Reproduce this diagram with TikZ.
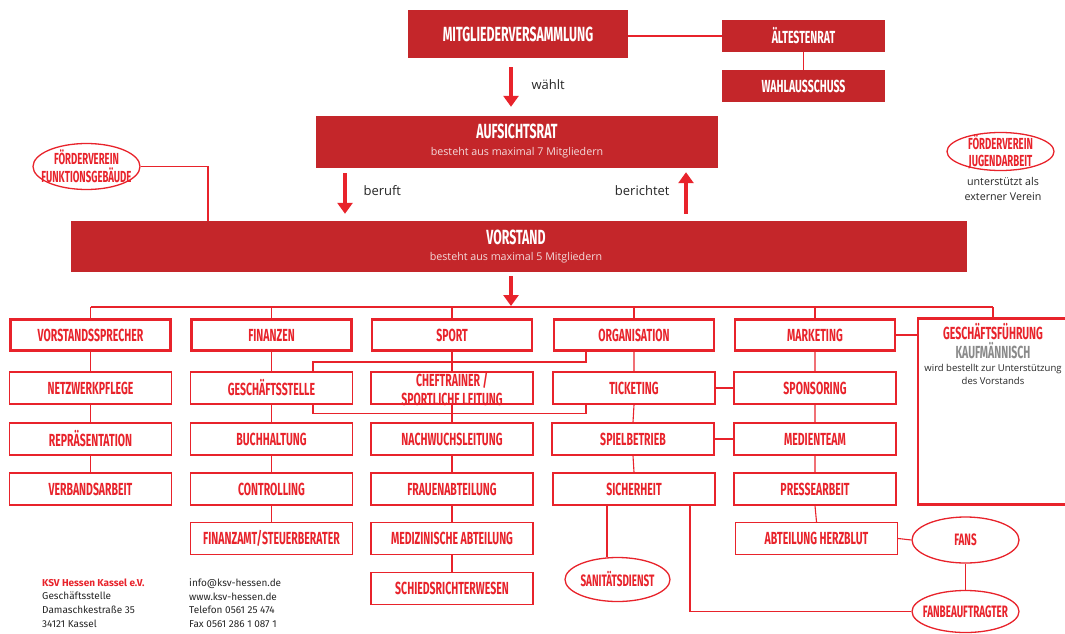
\documentclass[tikz,border=0pt]{standalone}
\usepackage{fontspec}
\setmainfont{Open Sans}
\newfontfamily\bebas[FakeStretch=0.6]{Fira Sans}
\newfontfamily\fira{Fira Sans}
\usetikzlibrary{arrows.meta,shapes.geometric}
\definecolor{dred}{HTML}{C4262A}
\definecolor{bred}{HTML}{E8232B}
\definecolor{gtxt}{HTML}{8A8A8A}
\definecolor{ptxt}{HTML}{F3DADB}
\begin{document}
\begin{tikzpicture}[x=1pt,y=-1pt,
  darkbox/.style={fill=dred, draw=none, text=white, align=center, inner sep=0pt},
  dtitle/.style={font=\bebas\bfseries\fontsize{20.5}{22}\selectfont},
  dsub/.style={text=ptxt, inner sep=0pt, font=\fontsize{10.7}{12}\selectfont},
  headbox/.style={draw=bred, line width=2.6pt, fill=white, text=bred, minimum width=160pt, minimum height=31pt, inner sep=0pt, font=\bebas\bfseries\fontsize{17.5}{19}\selectfont},
  subbox/.style={draw=bred, line width=1.4pt, fill=white, text=bred, minimum width=162pt, minimum height=32pt, inner sep=0pt, align=center, font=\bebas\bfseries\fontsize{17.5}{19}\selectfont},
  oval/.style={ellipse, draw=bred, line width=1.3pt, fill=white, inner sep=0pt},
  ovtext/.style={text=bred, inner sep=0pt, align=center, font=\bebas\bfseries\fontsize{16.5}{17.5}\selectfont},
  fvtext/.style={text=bred, inner sep=0pt, align=center, font=\bebas\bfseries\fontsize{16}{17}\selectfont},
  link/.style={draw=bred, line width=1.1pt},
  bigarrow/.style={draw=bred, line width=4.5pt, -{Triangle[width=15pt,length=11pt]}},
  lbl/.style={font=\fontsize{13}{15}\selectfont, text=black!85},
  foot/.style={anchor=north west, align=left, inner sep=0pt, font=\fira\fontsize{10}{13.6}\selectfont, text=black!85},
]
\useasboundingbox (0,0) rectangle (1065,634);

% top level
\node[darkbox, minimum width=220pt, minimum height=48pt, dtitle] (mv) at (518,34) {MITGLIEDERVERSAMMLUNG};
\node[darkbox, minimum width=163pt, minimum height=32pt, font=\bebas\bfseries\fontsize{17.5}{19}\selectfont] (alt) at (803.5,36) {ÄLTESTENRAT};
\node[darkbox, minimum width=163pt, minimum height=32pt, font=\bebas\bfseries\fontsize{17.5}{19}\selectfont] (wahl) at (803.5,86) {WAHLAUSSCHUSS};
\node[darkbox, minimum width=402pt, minimum height=52pt] (ar) at (517,142) {};
\node[dtitle, text=white, inner sep=0pt] (art) at (517,131) {AUFSICHTSRAT};
\node[dsub] (ars) at (517,152.5) {besteht aus maximal 7 Mitgliedern};
\node[darkbox, minimum width=896pt, minimum height=51pt] (vs) at (519,246.5) {};
\node[dtitle, text=white, inner sep=0pt] (vst) at (516,237.5) {VORSTAND};
\node[dsub] (vss) at (516,257.5) {besteht aus maximal 5 Mitgliedern};

\draw[link] (mv.east |- alt) -- (alt.west);
\draw[link] (alt.south) -- (wahl.north);

% arrows
\coordinate (ax1) at (511,0);
\coordinate (ax2) at (345,0);
\coordinate (ax3) at (686,0);
\coordinate (bus) at (0,307);
\draw[bigarrow, shorten <=9pt, shorten >=9pt] (mv.south -| ax1) -- (ar.north -| ax1);
\node[lbl, anchor=west] (wl) at (528,85) {wählt};
\draw[bigarrow, shorten <=5pt, shorten >=7pt] (ar.south -| ax2) -- (vs.north -| ax2);
\node[lbl, anchor=west] (bl) at (360,191) {beruft};
\draw[bigarrow, shorten <=7pt, shorten >=4pt] (vs.north -| ax3) -- (ar.south -| ax3);
\node[lbl, anchor=east] (bt) at (673,191) {berichtet};
\draw[bigarrow, shorten <=4pt, shorten >=1pt] (vs.south -| ax1) -- (bus -| ax1);

% foerdervereine
\node[oval, minimum width=107pt, minimum height=46pt] (fvf) at (86.5,166.5) {};
\node[fvtext, font=\bebas\bfseries\fontsize{16}{18}\selectfont] (fvft) at (86.5,166) {FÖRDERVEREIN\\FUNKTIONSGEBÄUDE};
\coordinate (fvx) at (208,0);
\draw[link] (fvf.east) -| (vs.north -| fvx);
\node[oval, minimum width=107pt, minimum height=38pt] (fvj) at (1000.5,151.5) {};
\node[fvtext] (fvjt) at (1000.5,151.5) {FÖRDERVEREIN\\JUGENDARBEIT};
\node[align=center, inner sep=0pt, font=\fontsize{10.7}{14.5}\selectfont, text=black!85] (fvjs) at (1003,189) {unterstützt als\\externer Verein};

% column heads
\node[headbox] (c1) at (90.5,335) {VORSTANDSSPRECHER};
\node[headbox] (c2) at (271.5,335) {FINANZEN};
\node[headbox] (c3) at (452,335) {SPORT};
\node[headbox] (c4) at (634,335) {ORGANISATION};
\node[headbox] (c5) at (815,335) {MARKETING};
\node[draw=bred, line width=2.6pt, fill=white, minimum width=150pt, minimum height=186pt, inner sep=0pt] (gf) at (993,411.5) {};
\node[inner sep=0pt, text=bred, font=\bebas\bfseries\fontsize{17.5}{19}\selectfont] (gft1) at (993,332) {GESCHÄFTSFÜHRUNG};
\node[inner sep=0pt, text=gtxt, font=\bebas\bfseries\fontsize{17.5}{19}\selectfont] (gft2) at (993,350.5) {KAUFMÄNNISCH};
\node[inner sep=0pt, align=center, text=black!85, font=\fontsize{9.5}{13}\selectfont] (gft3) at (993,374) {wird bestellt zur Unterstützung\\des Vorstands};

\draw[link] (c1.north |- bus) -- (gf.north |- bus);
\foreach \n in {c1,c2,c3,c4,c5,gf} \draw[link] (\n.north) -- (\n.north |- bus);
\draw[link] (c5.east) -- (c5.east -| gf.west);

% column 1
\node[subbox] (n11) at (90.5,388) {NETZWERKPFLEGE};
\node[subbox] (n12) at (90.5,439) {REPRÄSENTATION};
\node[subbox] (n13) at (90.5,489) {VERBANDSARBEIT};
% column 2
\node[subbox] (n21) at (271.5,388) {GESCHÄFTSSTELLE};
\node[subbox] (n22) at (271.5,439) {BUCHHALTUNG};
\node[subbox] (n23) at (271.5,489) {CONTROLLING};
\node[subbox] (n24) at (271.5,538.5) {FINANZAMT/STEUERBERATER};
% column 3
\node[subbox] (n31) at (452,388) {};
\node[text=bred, align=center, inner sep=0pt, font=\bebas\bfseries\fontsize{17.5}{19}\selectfont] (n31t) at (452,389) {CHEFTRAINER /\\SPORTLICHE LEITUNG};
\node[subbox] (n32) at (452,439) {NACHWUCHSLEITUNG};
\node[subbox] (n33) at (452,489) {FRAUENABTEILUNG};
\node[subbox] (n34) at (452,538.5) {MEDIZINISCHE ABTEILUNG};
\node[subbox] (n35) at (452,588.5) {SCHIEDSRICHTERWESEN};
% column 4
\node[subbox] (n41) at (634,388) {TICKETING};
\node[subbox] (n42) at (633,439) {SPIELBETRIEB};
\node[subbox] (n43) at (634,489) {SICHERHEIT};
% column 5
\node[subbox] (n51) at (815,388) {SPONSORING};
\node[subbox] (n52) at (815,439) {MEDIENTEAM};
\node[subbox] (n53) at (815,489) {PRESSEARBEIT};
\node[subbox] (n54) at (816.5,538.5) {ABTEILUNG HERZBLUT};

% vertical chains
\draw[link] (c1.south) -- (n11.north) (n11.south) -- (n12.north) (n12.south) -- (n13.north);
\draw[link] (c2.south) -- (n21.north) (n21.south) -- (n22.north) (n22.south) -- (n23.north) (n23.south) -- (n24.north);
\draw[link] (c3.south) -- (n31.north) (n31.south) -- (n32.north) (n32.south) -- (n33.north) (n33.south) -- (n34.north) (n34.south) -- (n35.north);
\draw[link] (c4.south) -- (n41.north) (n41.south) -- (n42.north) (n42.south) -- (n43.north);
\draw[link] (c5.south) -- (n51.north) (n51.south) -- (n52.north) (n52.south) -- (n53.north) (n53.south) -- (n54.north);

% cross links
\coordinate (gsx) at (313,0);
\coordinate (orx) at (586,0);
\coordinate (yy1) at (0,362);
\coordinate (yy2) at (0,413.5);
\draw[link] (c4.south -| orx) |- (gsx |- yy1) -- (n21.north -| gsx);
\draw[link] (n41.south -| orx) |- (gsx |- yy2) -- (n21.south -| gsx);
\draw[link] (n41.east) -- (n51.west);
\draw[link] (n42.east) -- (n52.west);

% ovals bottom
\node[oval, minimum width=105pt, minimum height=44pt] (san) at (617.5,579.5) {};
\node[ovtext] (sant) at (617.5,579.5) {SANITÄTSDIENST};
\node[oval, minimum width=107pt, minimum height=46pt] (fans) at (965.5,540) {};
\node[ovtext] (fanst) at (965.5,540) {FANS};
\node[oval, minimum width=107pt, minimum height=42pt] (fanb) at (965.5,611.5) {};
\node[ovtext] (fanbt) at (965.5,611.5) {FANBEAUFTRAGTER};
\coordinate (sx1) at (607,0);
\coordinate (sx2) at (690,0);
\draw[link] (n43.south -| sx1) -- (san.north -| sx1);
\draw[link] (n43.south -| sx2) |- (fanb.west);
\draw[link] (n54.east) -- (fans.west);
\draw[link] (fans.south) -- (fanb.north);

% footer
\node[foot] (f1) at (42,578.5) {{\bfseries\color{bred}KSV Hessen Kassel e.V.}\\Geschäftsstelle\\Damaschkestraße 35\\34121 Kassel};
\node[foot] (f2) at (189,578.5) {info@ksv-hessen.de\\www.ksv-hessen.de\\Telefon 0561 25 474\\Fax 0561 286 1 087 1};
\end{tikzpicture}
\end{document}
